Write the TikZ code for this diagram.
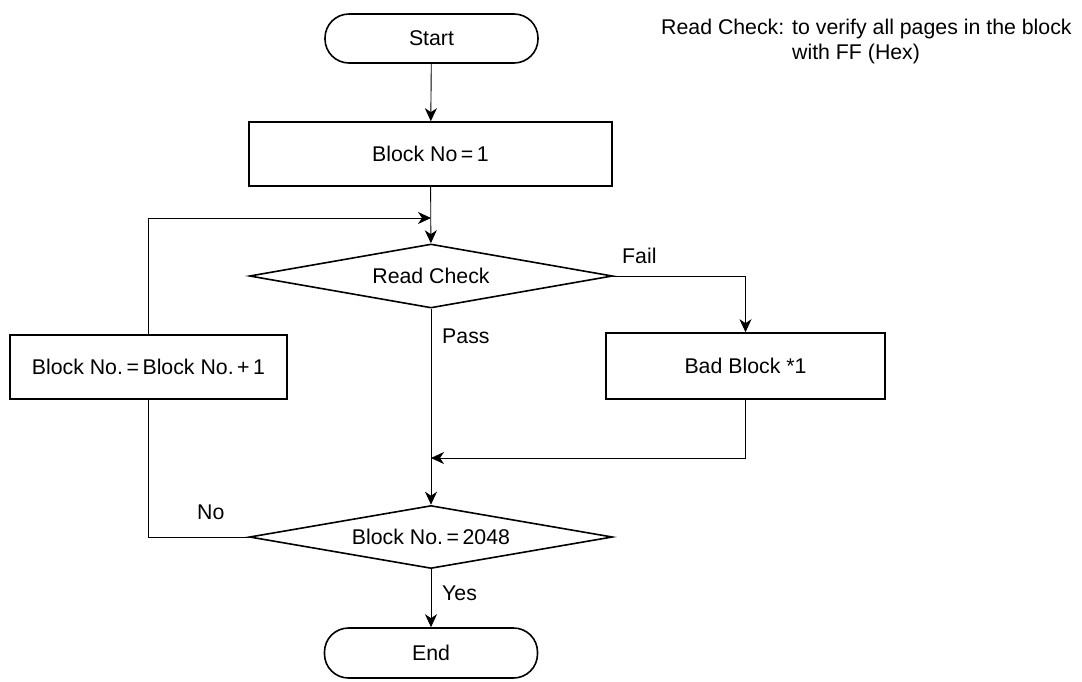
\documentclass[tikz,border=0pt]{standalone}
\usepackage{fontspec}
\setmainfont{Liberation Sans}
\usetikzlibrary{shapes.geometric,arrows.meta}
\begin{document}
\begin{tikzpicture}[x=1pt,y=-1pt,
  font=\fontsize{21.3}{25}\selectfont,
  box/.style={draw,line width=1.6pt,rectangle,inner sep=0pt},
  term/.style={draw,line width=1.6pt,rectangle,rounded corners=24pt,inner sep=0pt,minimum width=213pt},
  dec/.style={draw,line width=1.6pt,diamond,aspect=5.67,inner sep=0pt,minimum width=363pt,minimum height=64pt},
  conn/.style={line width=0.9pt},
  arr/.style={conn,-{Stealth[length=13pt,width=12pt,inset=4pt]}},
  lbl/.style={anchor=west,inner sep=0pt}]
\useasboundingbox (0,0) rectangle (1082,681);
\node[term,minimum height=49pt] (start) at (431.5,38.5) {Start};
\node[box,minimum width=363pt,minimum height=64pt] (b1) at (430.5,154) {Block No\,=\,1};
\node[dec] (read) at (431,276) {Read Check};
\node[box,minimum width=279pt,minimum height=66pt] (bad) at (745.5,366) {Bad Block *1};
\node[box,minimum width=277pt,minimum height=64pt] (inc) at (148.5,367) {Block No.\,=\,Block No.\,+\,1};
\node[dec,minimum height=63pt] (chk) at (431,537) {Block No.\,=\,2048};
\node[term,minimum height=50pt] (end) at (431,653) {End};
\coordinate (J) at (431,218);
\coordinate (M) at (431,458);
\draw[arr] (start) -- (b1);
\draw[arr] (b1) -- (read);
\draw[arr] (inc.north) |- (J);
\draw[arr] (read.east) -| (bad.north);
\draw[arr] (read.south) -- (chk.north);
\draw[arr] (bad.south) |- (M);
\draw[conn] (chk.west) -| (inc.south);
\draw[arr] (chk.south) -- (end.north);
\node[lbl] (fail) at (622,256) {Fail};
\node[lbl] (pass) at (442,336) {Pass};
\node[lbl] (no) at (197,512) {No};
\node[lbl] (yes) at (442,593) {Yes};
\node[anchor=base west,inner sep=0pt] (n1) at (661,34) {Read Check:};
\node[anchor=base west,inner sep=0pt] (n2) at (792,34) {to verify all pages in the block};
\node[anchor=base west,inner sep=0pt] (n3) at (792,59) {with FF (Hex)};
\end{tikzpicture}
\end{document}
